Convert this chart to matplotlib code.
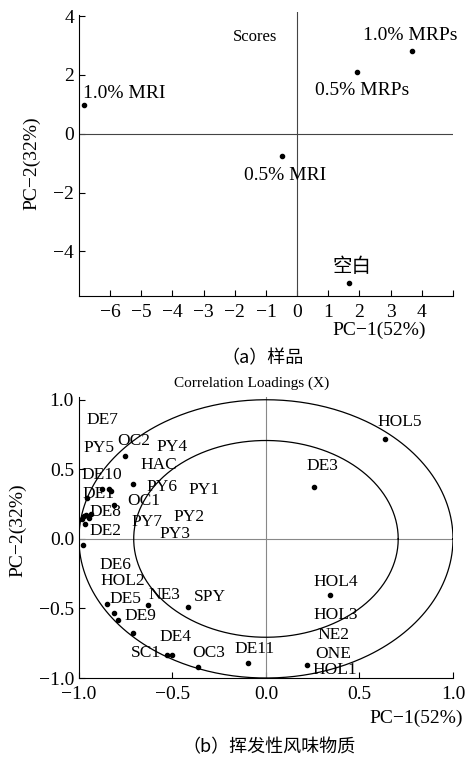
import numpy as np
import matplotlib
matplotlib.use("Agg")
from matplotlib import pyplot as plt

plt.rcParams['font.family'] = ['Liberation Serif', 'Noto Sans CJK SC']
plt.rcParams['axes.unicode_minus'] = True

# (a) scores
score_names = ['1.0% MRI', '0.5% MRI', '0.5% MRPs', '1.0% MRPs', '空白']
score_x = [-6.83, -0.50, 1.93, 3.70, 1.65]
score_y = [0.96, -0.76, 2.10, 2.81, -5.08]
score_lab_x = [-6.87, -1.70, 0.57, 2.12, 1.15]
score_lab_y = [1.36, -1.42, 1.47, 3.34, -4.54]

# (b) correlation loadings - dots
load_x = [0.638, 0.258, 0.340, 0.222, -0.098, -0.362, -0.529, -0.503, -0.419,
          -0.628, -0.851, -0.815, -0.790, -0.713, -0.979, -0.968, -0.982, -0.975,
          -0.963, -0.945, -0.933, -0.957, -0.874, -0.829, -0.840, -0.815, -0.713,
          -0.752]
load_y = [0.717, 0.373, -0.400, -0.903, -0.895, -0.921, -0.831, -0.831, -0.487,
          -0.478, -0.470, -0.531, -0.586, -0.675, -0.045, 0.105, 0.141, 0.164,
          0.169, 0.152, 0.176, 0.295, 0.355, 0.343, 0.360, 0.241, 0.398,
          0.597]

# (b) variable labels as placed in the original plot
var_names = ['DE7', 'PY5', 'OC2', 'PY4', 'HAC', 'DE10', 'PY6', 'PY1', 'DE1', 'OC1',
             'DE8', 'PY7', 'PY2', 'DE2', 'PY3', 'DE6', 'HOL2', 'NE3', 'DE5', 'SPY',
             'DE9', 'DE4', 'SC1', 'OC3', 'DE11', 'HOL5', 'DE3', 'HOL4', 'HOL3',
             'NE2', 'ONE', 'HOL1']
var_x = [-0.875, -0.893, -0.709, -0.500, -0.575, -0.879, -0.554, -0.330, -0.893, -0.652,
         -0.857, -0.634, -0.411, -0.857, -0.486, -0.807, -0.764, -0.545, -0.750, -0.298,
         -0.670, -0.486, -0.643, -0.304, -0.062, 0.714, 0.304, 0.375, 0.371,
         0.362, 0.357, 0.370]
var_y = [0.852, 0.650, 0.707, 0.660, 0.531, 0.460, 0.376, 0.352, 0.321, 0.274,
         0.195, 0.119, 0.155, 0.055, 0.036, -0.190, -0.305, -0.405, -0.429, -0.417,
         -0.555, -0.702, -0.817, -0.821, -0.793, 0.840, 0.524, -0.310, -0.548,
         -0.690, -0.828, -0.945]

fig = plt.figure(figsize=(4.67, 7.59), dpi=100)

# ---------- (a) ----------
ax1 = fig.add_axes([0.169, 0.610, 0.801, 0.3746])
ax1.set_xlim(-7, 5)
ax1.set_ylim(-5.52, 4.15)
ax1.axhline(0, color='#444444', lw=0.8)
ax1.axvline(0, color='#444444', lw=0.8)
ax1.scatter(score_x, score_y, s=9, color='black', zorder=3)
for n, x, y in zip(score_names, score_lab_x, score_lab_y):
    ax1.text(x, y, n, ha='left', va='center', fontsize=14)
ax1.text(-2.06, 3.28, 'Scores', ha='left', va='center', fontsize=12)
ax1.set_xticks(range(-6, 6))
ax1.set_xticklabels([str(i).replace('-', '\u2212') for i in range(-6, 5)] + [''])
ax1.set_yticks([-4, -2, 0, 2, 4])
ax1.spines['top'].set_visible(False)
ax1.spines['right'].set_visible(False)
ax1.spines['left'].set_bounds(-5.52, 4.03)
for s in ['left', 'bottom']:
    ax1.spines[s].set_linewidth(0.8)
ax1.tick_params(direction='in', labelsize=14, length=4, width=0.8)
ax1.tick_params(axis='x', pad=6)
fig.text(0.912, 1 - 330 / 759, 'PC\u22121(52%)', ha='right', va='center', fontsize=14)
fig.text(0.068, 1 - 163 / 759, 'PC\u22122(32%)', ha='center', va='center',
         rotation=90, fontsize=14)
fig.text(0.563, 1 - 358 / 759, '（a）样品', ha='center', va='center', fontsize=13,
         family=['Noto Sans CJK SC'])

# ---------- (b) ----------
ax2 = fig.add_axes([0.169, 0.1067, 0.801, 0.3703])
ax2.set_xlim(-1, 1)
ax2.set_ylim(-1, 1.02)
ax2.axhline(0, color='#888888', lw=0.8)
ax2.axvline(0, color='#888888', lw=0.8)
t = np.linspace(0, 2 * np.pi, 400)
for r in [1.0, np.sqrt(0.5)]:
    ax2.plot(r * np.cos(t), r * np.sin(t), color='black', lw=0.9)
ax2.scatter(load_x, load_y, s=9, color='black', zorder=3)
for n, x, y in zip(var_names, var_x, var_y):
    ax2.text(x, y, n, ha='center', va='center', fontsize=12.5)
ax2.set_xticks([-1, -0.5, 0, 0.5, 1])
ax2.set_xticklabels(['\u22121.0', '\u22120.5', '0.0', '0.5', '1.0'])
ax2.set_yticks([-1, -0.5, 0, 0.5, 1])
ax2.set_yticklabels(['\u22121.0', '\u22120.5', '0.0', '0.5', '1.0'])
ax2.spines['top'].set_visible(False)
ax2.spines['right'].set_visible(False)
for s in ['left', 'bottom']:
    ax2.spines[s].set_linewidth(0.8)
ax2.tick_params(direction='in', labelsize=14, length=4, width=0.8)
ax2.tick_params(axis='x', pad=6)
fig.text(0.538, 1 - 383 / 759, 'Correlation Loadings (X)', ha='center', va='center',
         fontsize=11)
fig.text(0.992, 1 - 718 / 759, 'PC\u22121(52%)', ha='right', va='center', fontsize=14)
fig.text(0.039, 1 - 530 / 759, 'PC\u22122(32%)', ha='center', va='center',
         rotation=90, fontsize=14)
fig.text(0.576, 1 - 747 / 759, '（b）挥发性风味物质', ha='center', va='center',
         fontsize=13, family=['Noto Sans CJK SC'])

fig.savefig('out.png', dpi=100)
